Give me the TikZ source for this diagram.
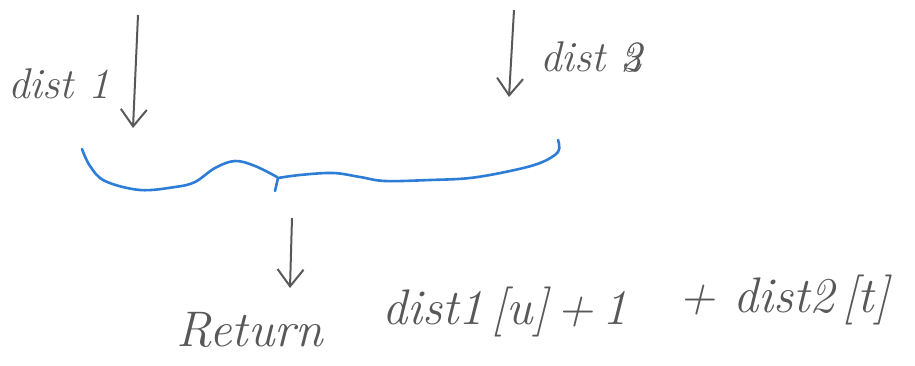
\documentclass[tikz,border=0pt]{standalone}
\usepackage{fontspec}
\usetikzlibrary{arrows.meta,positioning}
\definecolor{pencil}{RGB}{88,88,88}
\definecolor{pen}{RGB}{45,125,215}

\begin{document}
\begin{tikzpicture}[x=1pt,y=-1pt,
  hand/.style={font=\fontsize{43}{50}\selectfont\itshape,text=pencil,inner sep=0pt},
  bighand/.style={hand,font=\fontsize{50}{60}\selectfont\itshape},
  down/.style={-{Straight Barb[length=17pt,width=26pt]},pencil,line width=2pt}]
  \useasboundingbox (0,0) rectangle (915,366);
  % labels on top
  \node[hand,anchor=west] (d1) at (8,84) {dist 1};
  \node[hand,anchor=west] (d2) at (540,57) {dist \rlap{3}2};
  \coordinate (t1) at (138,15);
  \coordinate (h1) at (133,128);
  \coordinate (t2) at (514,10);
  \coordinate (h2) at (509,97);
  \draw[down] (t1) -- (h1);
  \draw[down] (t2) -- (h2);
  % the brace
  \draw[pen,line width=2.6pt,line cap=round] plot[smooth,tension=0.6] coordinates {(82,149) (90,166) (105,181) (140,190) (175,187) (195,182) (215,168) (235,161) (255,166) (277,177)};
  \draw[pen,line width=2.6pt,line cap=round] (278,178) -- (275,191);
  \draw[pen,line width=2.6pt,line cap=round] plot[smooth,tension=0.6] coordinates {(278,178) (300,175) (333,173) (360,177) (385,181) (430,180) (470,178) (510,171) (540,163) (558,152) (558,140)};
  % result
  \coordinate (t3) at (292,218);
  \coordinate (h3) at (290,288);
  \draw[down] (t3) -- (h3);
  \node[bighand,anchor=west] (ret) at (176,330) {Return};
  \node[bighand,anchor=west] (s1) at (382,312) {dist1\,[u]\,+\,1};
  \node[bighand,anchor=west] (s2) at (678,300) {+ dist2\,[t]};
\end{tikzpicture}
\end{document}
